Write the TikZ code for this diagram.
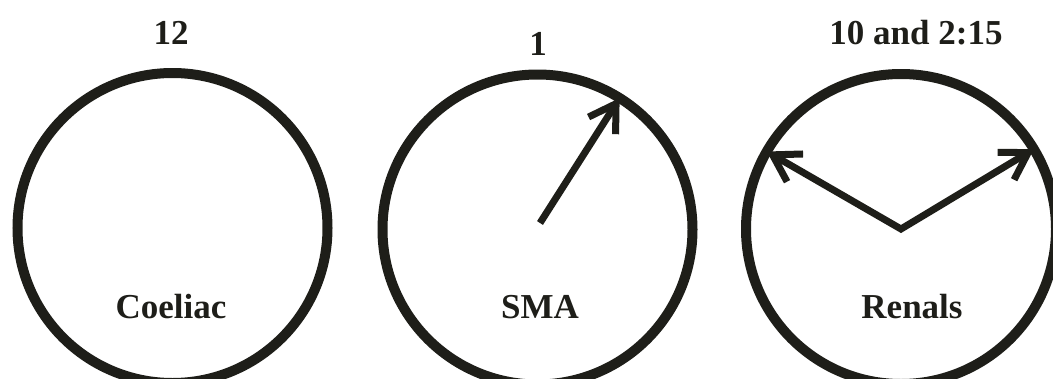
\documentclass[tikz,border=0pt]{standalone}
\usepackage{fontspec}
\setmainfont{Liberation Serif}
\usetikzlibrary{arrows.meta}
\definecolor{ink}{HTML}{1E1E19}
\begin{document}
\begin{tikzpicture}[x=1pt,y=-1pt,
  ring/.style={draw=ink,circle,line width=10pt,minimum size=310pt,inner sep=0pt,outer sep=0pt},
  lbl/.style={text=ink,font=\fontsize{35}{40}\selectfont\bfseries,inner sep=0pt},
  barb/.tip={Straight Barb[length=26pt,width=32pt,line width=7pt]},
  hand/.style={draw=ink,line width=7pt}]
\useasboundingbox (0,0) rectangle (1053,378);
\node[ring] (c1) at (172.5,228) {};
\node[ring] (c2) at (537.5,229.5) {};
\node[ring] (c3) at (901,229) {};
\node[lbl] (t1) at (171,33) {12};
\node[lbl] (t2) at (538,44) {1};
\node[lbl] (t3) at (916,33) {10 and 2:15};
\node[lbl] (b1) at (171,307) {Coeliac};
\node[lbl] (b2) at (540,307) {SMA};
\node[lbl] (b3) at (912,307) {Renals};
\coordinate (s2) at (540,223);
\draw[hand,-barb] (s2) -- (c2.58.5);
\draw[hand,barb-barb,line join=miter] (c3.150) -- (c3.center) -- (c3.31);
\end{tikzpicture}
\end{document}
